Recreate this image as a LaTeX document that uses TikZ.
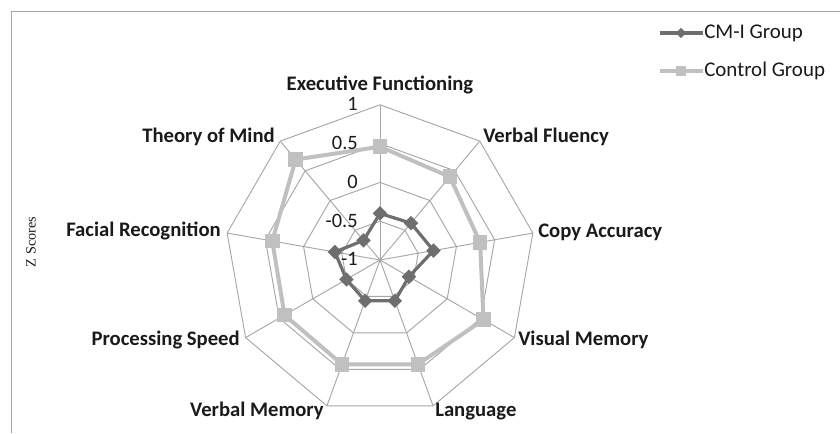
\documentclass[tikz,border=0pt]{standalone}
\usepackage{fontspec}
\setmainfont{Carlito}
\newfontfamily\timesf{Liberation Serif}
\usetikzlibrary{shapes.geometric}
\definecolor{gridc}{HTML}{A6A6A6}
\definecolor{cmi}{HTML}{6E6E6E}
\definecolor{ctrl}{HTML}{C0C0C0}
\definecolor{txt}{HTML}{1A1A1A}
\tikzset{
  gridline/.style={draw=gridc, line width=0.7pt},
  cmiline/.style={draw=cmi, line width=2.4pt, line join=round},
  ctrlline/.style={draw=ctrl, line width=3pt, line join=round},
  cmimark/.style={diamond, fill=cmi, inner sep=0pt, minimum size=11pt},
  ctrlmark/.style={rectangle, fill=ctrl, inner sep=0pt, minimum size=11pt},
  axlab/.style={font=\fontsize{15.5}{18}\selectfont\bfseries, text=txt, inner sep=0pt},
  vallab/.style={font=\fontsize{15.3}{18}\selectfont, text=txt, inner sep=0pt, anchor=east},
  leglab/.style={font=\fontsize{15.7}{18}\selectfont, text=txt, inner sep=0pt, anchor=west}
}
\begin{document}
\begin{tikzpicture}[x=0.75pt,y=-0.75pt]
\useasboundingbox (0,0) rectangle (840,433);
% frame
\draw[gridline] (11,433) -- (11,11) -- (840,11);
\begin{scope}[shift={(380,260)}]
  % rings
  \foreach \k in {1,2,3,4}{
    \draw[gridline] (0,{-38.8*\k}) \foreach \t in {40,80,...,320}{ -- ({38.8*\k*sin(\t)},{-38.8*\k*cos(\t)})} -- cycle;
  }
  % spokes
  \foreach \t in {0,40,...,320}{
    \draw[gridline] (0,0) -- ({155.2*sin(\t)},{-155.2*cos(\t)});
  }
  % data points
  \foreach \v [count=\i] in {0.46,0.40,0.31,0.54,0.43,0.43,0.42,0.41,0.69}{
    \coordinate (k\i) at ({(\v+1)*77.6*sin(40*(\i-1))},{-(\v+1)*77.6*cos(40*(\i-1))});
  }
  \foreach \v [count=\i] in {-0.40,-0.38,-0.30,-0.57,-0.44,-0.44,-0.50,-0.41,-0.67}{
    \coordinate (m\i) at ({(\v+1)*77.6*sin(40*(\i-1))},{-(\v+1)*77.6*cos(40*(\i-1))});
  }
\end{scope}
% control group
\draw[ctrlline] (k1) -- (k2) -- (k3) -- (k4) -- (k5) -- (k6) -- (k7) -- (k8) -- (k9) -- cycle;
\foreach \i in {1,...,9}{ \node[ctrlmark] (kn\i) at (k\i) {}; }
% CM-I group
\draw[cmiline] (m1) -- (m2) -- (m3) -- (m4) -- (m5) -- (m6) -- (m7) -- (m8) -- (m9) -- cycle;
\foreach \i in {1,...,9}{ \node[cmimark] (mn\i) at (m\i) {}; }
% value labels
\node[vallab] (v1) at (358,104) {1};
\node[vallab] (v2) at (358,143) {0.5};
\node[vallab] (v3) at (358,182) {0};
\node[vallab] (v4) at (358,221) {-0.5};
\node[vallab] (v5) at (358,259) {-1};
% axis labels
\node[axlab, anchor=base] (a1) at (380,90) {Executive Functioning};
\node[axlab, anchor=base west] (a2) at (483,142) {Verbal Fluency};
\node[axlab, anchor=base west] (a3) at (538,237) {Copy Accuracy};
\node[axlab, anchor=base west] (a4) at (518,345) {Visual Memory};
\node[axlab, anchor=base west] (a5) at (435,416) {Language};
\node[axlab, anchor=base east] (a6) at (324,416) {Verbal Memory};
\node[axlab, anchor=base east] (a7) at (240,345) {Processing Speed};
\node[axlab, anchor=base east] (a8) at (221,236) {Facial Recognition};
\node[axlab, anchor=base east] (a9) at (275,142) {Theory of Mind};
% y title
\node[rotate=90, font=\timesf\fontsize{10.7}{12}\selectfont, text=txt, inner sep=0pt] (zs) at (31,242) {Z Scores};
% legend
\coordinate (la1) at (660,33); \coordinate (lb1) at (703,33);
\draw[cmiline] (la1) -- (lb1);
\node[cmimark, minimum size=8pt] (lm1) at (681,33) {};
\node[leglab] (lt1) at (704,33) {CM-I Group};
\coordinate (la2) at (660,71); \coordinate (lb2) at (703,71);
\draw[ctrlline] (la2) -- (lb2);
\node[ctrlmark, minimum size=8pt] (lm2) at (681,71) {};
\node[leglab] (lt2) at (704,71) {Control Group};
\end{tikzpicture}
\end{document}
